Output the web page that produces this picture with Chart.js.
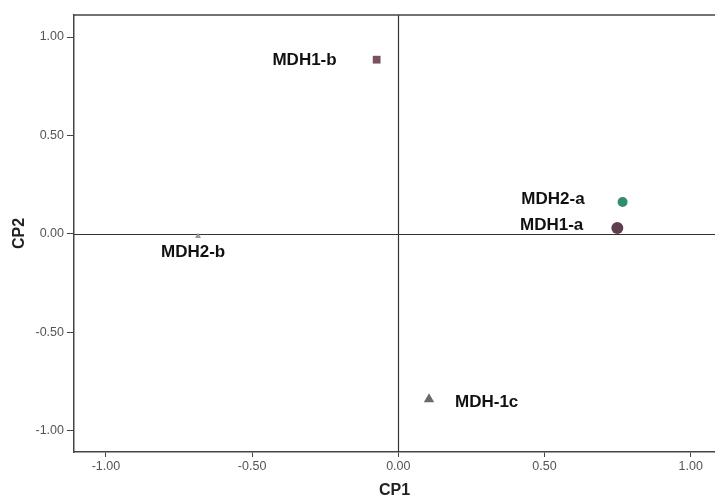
<!DOCTYPE html>
<html>
<head>
<meta charset="utf-8">
<script src="https://cdn.jsdelivr.net/npm/chart.js@4.4.1/dist/chart.umd.min.js"></script>
<style>
  html, body { margin: 0; padding: 0; background: #ffffff; overflow: hidden; }
  #wrap { width: 715px; height: 499px; position: relative; }
</style>
</head>
<body>
<div id="wrap"><canvas id="c" width="715" height="499"></canvas></div>
<script>
// ---- data ----
const names = ['MDH1-a', 'MDH1-b', 'MDH-1c', 'MDH2-a', 'MDH2-b'];
const cp1 = [0.749, -0.074, 0.105, 0.767, -0.685];
const cp2 = [0.030, 0.885, -0.840, 0.162, -0.012];
const tickValues = [-1.0, -0.5, 0.0, 0.5, 1.0];
const xTitle = 'CP1';
const yTitle = 'CP2';

// ---- styles ----
const pointStyles = ['circle', 'rect', 'triangle', 'circle', 'triangle'];
const pointColors = ['#5e3e4c', '#7a5063', '#6a6a6a', '#2f8f6c', '#9a9a9a'];
const pointRadii = [6, 5.5, 6, 5, 3.5];
// label placement relative to each point (pixels) and alignment
const labelOffsets = [[-34, -3, 'right'], [-40, 1, 'right'], [26, 3, 'left'], [-38, -3, 'right'], [-37, 16, 'left']];

const datasets = names.map((n, i) => ({
  label: n,
  data: [{ x: cp1[i], y: cp2[i] }],
  pointStyle: pointStyles[i],
  backgroundColor: pointColors[i],
  borderColor: pointColors[i],
  borderWidth: 0,
  pointRadius: pointRadii[i],
  pointHoverRadius: pointRadii[i]
}));

const extras = {
  id: 'extras',
  beforeDatasetsDraw(chart) {
    const { ctx, chartArea: a, scales: { x, y } } = chart;
    ctx.save();
    ctx.strokeStyle = '#333333';
    ctx.lineWidth = 1.2;
    const x0 = Math.round(x.getPixelForValue(0)) + 0.5;
    const y0 = Math.round(y.getPixelForValue(0)) + 0.5;
    ctx.beginPath();
    ctx.moveTo(x0, a.top); ctx.lineTo(x0, a.bottom);
    ctx.moveTo(a.left, y0); ctx.lineTo(a.right, y0);
    ctx.stroke();
    // top frame line
    ctx.lineWidth = 1.5;
    ctx.strokeStyle = '#444444';
    ctx.beginPath();
    ctx.moveTo(a.left, a.top); ctx.lineTo(a.right, a.top);
    ctx.stroke();
    ctx.restore();
  },
  afterDatasetsDraw(chart) {
    const { ctx } = chart;
    ctx.save();
    ctx.font = 'bold 17px "Liberation Sans", Arial, sans-serif';
    ctx.fillStyle = '#111111';
    ctx.textBaseline = 'middle';
    chart.data.datasets.forEach((ds, i) => {
      const el = chart.getDatasetMeta(i).data[0];
      const [dx, dy, align] = labelOffsets[i];
      ctx.textAlign = align;
      ctx.fillText(ds.label, el.x + dx, el.y + dy);
    });
    ctx.restore();
  }
};

new Chart(document.getElementById('c'), {
  type: 'scatter',
  data: { datasets },
  plugins: [extras],
  options: {
    responsive: false,
    animation: false,
    events: [],
    layout: { autoPadding: false, padding: { top: 15, right: 0, left: 0, bottom: 0 } },
    plugins: { legend: { display: false }, tooltip: { enabled: false } },
    scales: {
      x: {
        type: 'linear',
        min: -1.109,
        max: 1.083,
        afterBuildTicks: s => { s.ticks = tickValues.map(v => ({ value: v })); },
        afterFit: s => { s.height = 47; },
        grid: { drawOnChartArea: false, drawTicks: true, tickLength: 5, color: '#444444', lineWidth: 1 },
        border: { display: true, color: '#444444', width: 1.5 },
        ticks: {
          padding: 2,
          color: '#555555',
          font: { family: '"Liberation Sans", Arial, sans-serif', size: 12.5 },
          callback: v => v.toFixed(2)
        },
        title: {
          display: true, text: xTitle, color: '#222222',
          font: { family: '"Liberation Sans", Arial, sans-serif', size: 16, weight: 'bold', lineHeight: 1 },
          padding: { top: 0, bottom: 0 }
        }
      },
      y: {
        type: 'linear',
        min: -1.108,
        max: 1.112,
        afterBuildTicks: s => { s.ticks = tickValues.map(v => ({ value: v })); },
        afterFit: s => { s.width = 74; },
        grid: { drawOnChartArea: false, drawTicks: true, tickLength: 7, color: '#444444', lineWidth: 1 },
        border: { display: true, color: '#444444', width: 1.5 },
        ticks: {
          padding: 3,
          color: '#555555',
          font: { family: '"Liberation Sans", Arial, sans-serif', size: 12.5 },
          callback: v => v.toFixed(2)
        },
        title: {
          display: true, text: yTitle, color: '#222222',
          font: { family: '"Liberation Sans", Arial, sans-serif', size: 16, weight: 'bold', lineHeight: 1 },
          padding: { top: 12, bottom: 0 }
        }
      }
    }
  }
});
</script>
</body>
</html>
